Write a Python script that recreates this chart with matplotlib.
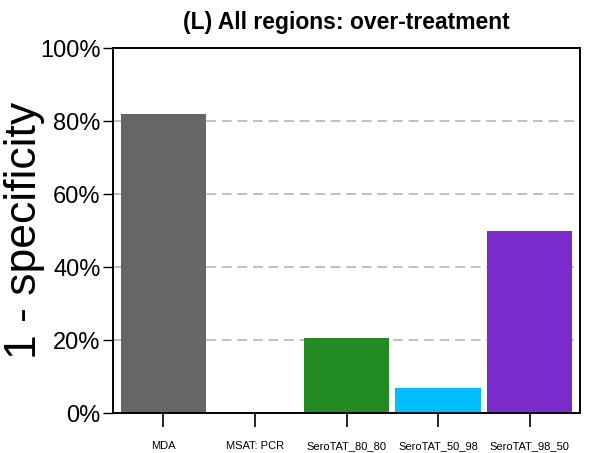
import matplotlib.pyplot as plt
import numpy as np

plt.rcParams["font.family"] = ["Liberation Sans", "DejaVu Sans"]

categories = ["MDA", "MSAT: PCR", "SeroTAT_80_80", "SeroTAT_50_98", "SeroTAT_98_50"]
values = [0.82, 0.0, 0.205, 0.068, 0.50]
colors = ["#666666", "#ffffff", "#228B22", "#00BFFF", "#7B2ACD"]
yticks = [0, 0.2, 0.4, 0.6, 0.8, 1.0]
ytick_labels = ["0%", "20%", "40%", "60%", "80%", "100%"]

fig = plt.figure(figsize=(6.05, 4.53), dpi=100)
ax = fig.add_axes([0.1868, 0.0883, 0.7719, 0.8057])

x = np.arange(len(categories))
for yv in yticks[1:-1]:
    ax.axhline(yv, color="#c0c0c0", linestyle=(0, (5, 3)), linewidth=1.4, zorder=1)
ax.bar(x, values, width=0.935, color=colors, zorder=2)

ax.set_xlim(-0.55, 4.55)
ax.set_ylim(0, 1)
ax.set_yticks(yticks)
ax.set_yticklabels(ytick_labels, fontsize=17)
ax.set_xticks(x)
ax.set_xticklabels(categories, fontsize=8)
ax.tick_params(axis="y", length=7, width=1, pad=2)
ax.tick_params(axis="x", length=10, width=1.2, pad=10)
for s in ax.spines.values():
    s.set_linewidth(1.4)

ax.set_ylabel("1 - specificity", fontsize=32, va="center")
ax.yaxis.set_label_coords(-0.19, 0.5)
ax.set_title("(L) All regions: over-treatment", fontsize=16.5, fontweight="bold", pad=14)

fig.savefig("out.png", dpi=100)
